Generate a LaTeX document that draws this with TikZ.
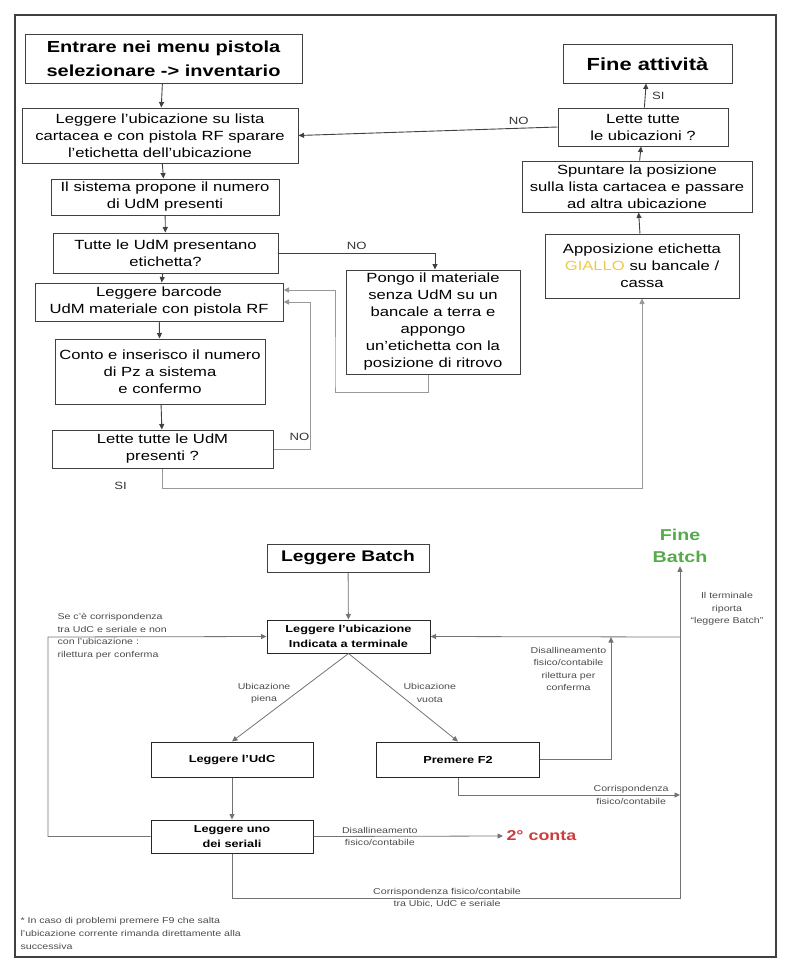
\documentclass[tikz,border=0pt]{standalone}
\usepackage{fontspec}
\setmainfont{Liberation Sans}[FakeStretch=1.25]
\usetikzlibrary{arrows.meta}
\definecolor{giallo}{RGB}{238,200,70}
\definecolor{verde}{RGB}{85,170,75}
\definecolor{rosso}{RGB}{205,60,60}
\tikzset{box/.style={draw=black!75, line width=1pt, align=center, inner sep=1pt,
		font=\fontsize{13.3}{17}\selectfont},
	bigbox/.style={box, font=\bfseries\fontsize{16}{24}\selectfont},
	bbox/.style={box, draw=black!85, font=\bfseries\fontsize{10.2}{15}\selectfont},
	lbl/.style={font=\fontsize{10.5}{13}\selectfont, text=black!80},
	note/.style={font=\fontsize{8.5}{12.5}\selectfont, text=black!70, align=center},
	arr/.style={-{Triangle[length=5.5pt,width=5pt]}, draw=black!75, line width=0.9pt},
	arrl/.style={arr, draw=black!40},
	arrb/.style={arr, draw=black!55, line width=0.8pt}}

\begin{document}
\begin{tikzpicture}[x=1pt,y=-1pt]
		\useasboundingbox (0,0) rectangle (800,966);
		\draw[line width=1.5pt, black!75] (15,15) rectangle (776,957);
		% parte alta
		\node[bigbox, minimum width=277pt, minimum height=48pt] (menu) at (163.5,59) {Entrare nei menu pistola\\selezionare -> inventario};
		\node[box, minimum width=276pt, minimum height=55pt] (ubic) at (160,135.5) {Leggere l’ubicazione su lista\\cartacea  e con pistola RF sparare\\l’etichetta dell’ubicazione};
		\node[box, minimum width=228pt, minimum height=36pt] (sist) at (165,197) {Il sistema propone il numero\\di UdM presenti};
		\node[box, minimum width=225pt, minimum height=40pt] (etic) at (165.5,253) {Tutte le UdM presentano\\etichetta?};
		\node[box, minimum width=248pt, minimum height=38pt] (barc) at (159,302) {Leggere barcode\\UdM materiale con pistola RF};
		\node[box, minimum width=210pt, minimum height=65pt] (conto) at (160,371.5) {Conto e inserisco il numero\\di Pz a sistema\\e confermo};
		\node[box, minimum width=221pt, minimum height=38pt] (lette) at (162.5,449) {Lette tutte le UdM\\presenti ?};
		\node[box, minimum width=174pt, minimum height=104pt] (pongo) at (433,322) {Pongo il materiale\\senza UdM  su un\\bancale a terra e\\appongo\\un’etichetta con la\\posizione di ritrovo};
		\node[bigbox, minimum width=169pt, minimum height=38pt, font=\bfseries\fontsize{17.5}{24}\selectfont] (fine) at (647.5,64) {Fine attività};
		\node[box, minimum width=170pt, minimum height=38pt] (tutte) at (643,127) {Lette tutte\\le ubicazioni ?};
		\node[box, minimum width=230pt, minimum height=51pt] (spunta) at (637,186.5) {Spuntare la posizione\\sulla lista cartacea e passare\\ad altra ubicazione};
		\node[box, minimum width=194pt, minimum height=64pt] (appo) at (642,266) {Apposizione etichetta\\{\color{giallo}GIALLO} su bancale /\\cassa};
		\draw[arr] (menu) -- (ubic);
		\draw[arr] (ubic) -- (sist);
		\draw[arr] (sist) -- (etic);
		\draw[arr] (etic) -- (barc);
		\draw[arr] (barc) -- (conto);
		\draw[arr] (conto) -- (lette);
		\draw[arr] (etic.east) -| node[lbl, pos=.25, above]{NO} ([xshift=2pt]pongo.north);
		\draw[arrl] ([xshift=-5pt]pongo.south) -- ++(0,18) -| ++(-93,-10) |- ([yshift=12pt]barc.east);
		\draw[arrl] (lette.east) -- ++(37,0) node[lbl, pos=.7, above=5pt]{NO} |- (barc.east);
		\draw[arrl] (lette.south) -- ++(0,20) node[lbl, xshift=-42pt, yshift=3pt]{SI} -| (appo.south);
		\draw[arr] (appo) -- (spunta);
		\draw[arr] (spunta) -- (tutte);
		\draw[arr] (tutte) -- node[lbl, right=3pt]{SI} (fine);
		\draw[arr] (tutte.west) -- node[lbl, pos=.15, above]{NO} (ubic.east);
		% parte bassa
		\node[bigbox, minimum width=162pt, minimum height=28pt, font=\bfseries\fontsize{15.4}{20}\selectfont] (batch) at (348,558) {Leggere Batch};
		\node[bbox, minimum width=163pt, minimum height=33pt] (term) at (348.5,636.5) {Leggere l’ubicazione\\Indicata a terminale};
		\node[bbox, minimum width=162pt, minimum height=35pt] (udc) at (232,759.5) {Leggere l’UdC};
		\node[bbox, minimum width=163pt, minimum height=35pt] (f2) at (458,759.5) {Premere F2};
		\node[bbox, minimum width=162pt, minimum height=33pt] (ser) at (232,836.5) {Leggere uno\\dei seriali};
		\node[font=\bfseries\fontsize{14.3}{18}\selectfont, text=rosso, anchor=west] (conta) at (503,836) {2° conta};
		\node[font=\bfseries\fontsize{15.7}{22}\selectfont, text=verde, align=center] (fb) at (680,546) {Fine\\Batch};
		\coordinate (c1) at (680,898);
		\coordinate (c2) at (611,637);
		\coordinate (c3) at (680,795);
		\coordinate (c4) at (680,637);
		\coordinate (c5) at (48,637);
		\draw[arrb] (batch) -- (term);
		\draw[arrb] (term.south) -- node[note, pos=.45, left=2pt]{Ubicazione\\piena} (udc.north);
		\draw[arrb] (term.south) -- node[note, pos=.45, right=2pt]{Ubicazione\\vuota} (f2.north);
		\draw[arrb] (udc) -- (ser);
		\draw[arrb] (ser.east) -- node[note, pos=.35]{Disallineamento\\fisico/contabile} (conta.west);
		\draw[arrb] (ser.south) |- node[note, pos=.74]{Corrispondenza fisico/contabile\\tra Ubic, UdC e seriale} (c1) -- (fb.south);
		\draw[arrb] (f2.east) -| node[note, pos=.87, left=1pt]{Disallineamento\\fisico/contabile\\rilettura per\\conferma} (c2);
		\draw[arrb] (f2.south) |- node[note, pos=.89]{Corrispondenza\\fisico/contabile} (c3);
		\draw[arrb] (c4) -- (term.east);
		\draw[arrb] (ser.west) -| (c5) -- (term.west);
		\node[note, align=left, anchor=west] (corr) at (54,636) {Se c’è corrispondenza\\tra UdC e seriale e non\\con l’ubicazione :\\rilettura per conferma};
		\node[note] (riporta) at (727,609) {Il terminale\\riporta\\“leggere Batch”};
		\node[note, align=left, anchor=north west, font=\fontsize{8.5}{13}\selectfont] (nota) at (17,914) {* In caso di problemi premere F9 che salta\\l’ubicazione corrente rimanda direttamente alla\\successiva};
		\end{tikzpicture}
\end{document}
